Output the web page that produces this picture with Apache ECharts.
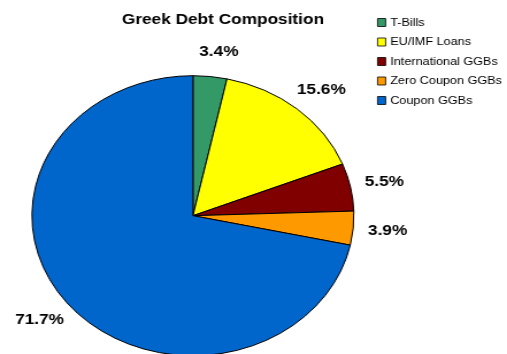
<!DOCTYPE html>
<html>
<head>
<meta charset="utf-8">
<script src="https://cdn.jsdelivr.net/npm/echarts@6/dist/echarts.min.js"></script>
<style>
html,body{margin:0;padding:0;background:#fff;overflow:hidden;width:507px;height:354px;}
#chart{width:441px;height:354px;transform:scaleX(1.1497);transform-origin:0 0;}
</style>
</head>
<body>
<div id="chart"></div>
<script>
const categories = ['T-Bills', 'EU/IMF Loans', 'International GGBs', 'Zero Coupon GGBs', 'Coupon GGBs'];
const shares = [3.4, 15.6, 5.5, 3.9, 71.7];
const sliceColors = ['#339966', '#FFFF00', '#800000', '#FF9900', '#0066CC'];
const chartTitle = 'Greek Debt Composition';

const chart = echarts.init(document.getElementById('chart'), null, {renderer: 'canvas'});
const data = categories.map((c, i) => ({name: c, value: shares[i], itemStyle: {color: sliceColors[i]}}));

chart.setOption({
  animation: false,
  backgroundColor: '#ffffff',
  title: {
    text: chartTitle,
    left: 106,
    top: 12,
    padding: 0,
    textStyle: {fontFamily: 'Liberation Sans, Arial, sans-serif', fontSize: 15, fontWeight: 'bold', color: '#000'}
  },
  legend: {
    orient: 'vertical',
    left: 328,
    top: 15.5,
    padding: 0,
    icon: 'rect',
    itemWidth: 7,
    itemHeight: 8,
    itemGap: 5.5,
    data: categories,
    itemStyle: {borderColor: '#000', borderWidth: 0.8},
    textStyle: {fontFamily: 'Liberation Sans, Arial, sans-serif', fontSize: 11, color: '#000', lineHeight: 14, padding: [0, 0, 0, -1]}
  },
  series: [{
    type: 'pie',
    center: [167.8, 215.7],
    radius: 140,
    startAngle: 90,
    clockwise: true,
    avoidLabelOverlap: false,
    data: data,
    itemStyle: {borderColor: '#000', borderWidth: 1},
    emphasis: {disabled: true},
    label: {
      show: true,
      position: 'outside',
      formatter: p => p.value.toFixed(1) + '%',
      fontFamily: 'Liberation Sans, Arial, sans-serif',
      fontSize: 15,
      fontWeight: 'bold',
      color: '#000',
      distanceToLabelLine: 5
    },
    labelLine: {show: false, length: 25, length2: 0},
    labelLayout: function () { return {align: 'center'}; }
  }]
});
</script>
</body>
</html>
